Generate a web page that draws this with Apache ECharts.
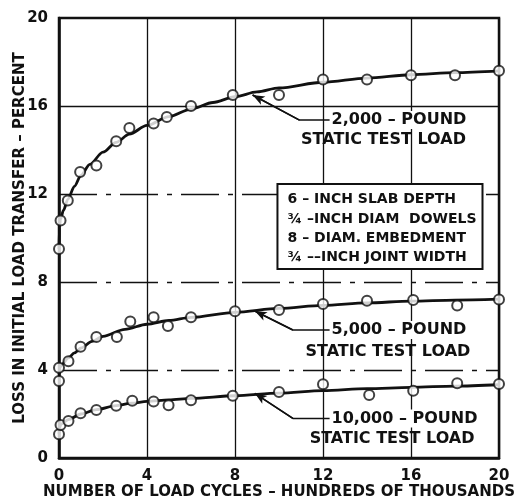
<!DOCTYPE html>
<html><head><meta charset="utf-8">
<script src="https://cdn.jsdelivr.net/npm/echarts@6/dist/echarts.min.js"></script>
<style>html,body{margin:0;padding:0;background:#fff}#c{width:517px;height:500px}</style>
</head><body><div id="c"></div>
<script>
// ---- data ----
const obs2000 = [[0,9.5],[0.07,10.8],[0.4,11.7],[0.96,13.0],[1.7,13.3],[2.6,14.4],[3.2,15.0],[4.3,15.2],[4.9,15.5],[6.0,16.0],[7.9,16.5],[10.0,16.5],[12.0,17.2],[14.0,17.2],[16.0,17.4],[18.0,17.4],[20.0,17.6]];
const obs5000 = [[0,4.1],[0,3.5],[0.43,4.4],[0.98,5.06],[1.7,5.5],[2.63,5.5],[3.24,6.2],[4.3,6.4],[4.95,6.0],[6.0,6.4],[8.0,6.67],[10.0,6.73],[12.0,7.0],[14.0,7.15],[16.1,7.18],[18.1,6.93],[20.0,7.2]];
const obs10000 = [[0,1.08],[0.07,1.5],[0.43,1.68],[0.98,2.03],[1.7,2.18],[2.6,2.38],[3.33,2.6],[4.3,2.57],[4.98,2.4],[6.0,2.62],[7.9,2.83],[10.0,3.0],[12.0,3.35],[14.1,2.86],[16.1,3.06],[18.1,3.4],[20.0,3.36]];
const curve2000 = [[0,9.5],[0.02,10.5],[0.07,10.85],[0.2,11.25],[0.4,11.75],[0.7,12.35],[1,12.85],[1.4,13.35],[2,13.9],[2.6,14.35],[3.2,14.72],[4,15.12],[5,15.52],[6,15.86],[7,16.16],[8,16.42],[9,16.64],[10,16.82],[12,17.08],[14,17.27],[16,17.42],[18,17.52],[20,17.6]];
const curve5000 = [[0,3.8],[0.03,4.1],[0.15,4.28],[0.43,4.55],[0.7,4.78],[1,5.0],[1.5,5.3],[2,5.53],[3,5.85],[4,6.08],[5,6.25],[6,6.39],[8,6.62],[10,6.8],[12,6.94],[14,7.05],[16,7.13],[18,7.18],[20,7.22]];
const curve10000 = [[0,1.1],[0.03,1.4],[0.1,1.55],[0.43,1.75],[1,2.0],[1.7,2.2],[2.6,2.38],[3.3,2.49],[4,2.57],[5,2.64],[6,2.71],[8,2.83],[10,2.95],[12,3.06],[14,3.15],[16,3.21],[18,3.27],[20,3.33]];
const lead2000 = [[8.8,16.5],[10.93,15.36],[12.3,15.36]];
const lead5000 = [[8.9,6.68],[10.63,5.82],[12.3,5.82]];
const lead10000 = [[8.9,2.94],[10.63,1.8],[12.3,1.8]];
const loadLabels = ['2,000 – POUND','5,000 – POUND','10,000 – POUND'];
const subLabel = 'STATIC TEST LOAD';
const subAnchors = [[14.75,14.45],[14.95,4.83],[15.14,0.85]];
const hGridSolid = [16];
const hGridDashed = [4,8,12];
const noteLines = ['6 – INCH SLAB DEPTH','¾ –INCH DIAM  DOWELS','8 – DIAM. EMBEDMENT','¾ ––INCH JOINT WIDTH'];
const noteBox = [[9.93,12.45],[19.25,8.59]];
const noteLineY = [11.77,10.86,10.0,9.14];
const noteLeftX = 10.39;
const xName = 'NUMBER OF LOAD CYCLES – HUNDREDS OF THOUSANDS';
const yName = 'LOSS IN INITIAL LOAD TRANSFER – PERCENT';

// ---- chart ----
const ink = '#111';
const F = '"DejaVu Sans", sans-serif';
const chart = echarts.init(document.getElementById('c'), null, {renderer:'canvas'});
const txt = (size) => ({color:ink, fontFamily:F, fontWeight:'bold', fontSize:size});

function curveSeries(d){
  return {type:'line', data:d, symbol:'none', smooth:0.3, smoothMonotone:'x', z:5,
    lineStyle:{color:ink, width:2.8}, silent:true};
}
function obsSeries(d){
  return {type:'scatter', data:d, symbol:'circle', symbolSize:10, z:8, silent:true,
    itemStyle:{color:'#fff', borderColor:ink, borderWidth:2}};
}
function leadSeries(d){
  return {type:'line', data:d, symbol:'none', z:4, silent:true,
    lineStyle:{color:ink, width:1.5},
    markLine:{silent:true, symbol:['none','arrow'], symbolSize:[7,12], label:{show:false},
      lineStyle:{color:ink, width:1.5, type:'solid'},
      data:[[{coord:d[1]},{coord:d[0]}]]}};
}

const gridLines = {
  type:'line', data:[], silent:true, z:1,
  markLine:{silent:true, symbol:['none','none'], label:{show:false}, animation:false,
    data: hGridSolid.map(v=>({yAxis:v, lineStyle:{color:ink, width:1.3, type:'solid'}}))
      .concat(hGridDashed.map(v=>({yAxis:v, lineStyle:{color:ink, width:1.3, type:[38,9,5,9]}})))}
};

const option = {
  animation:false,
  backgroundColor:'#fff',
  grid:{left:59, right:18, top:18, bottom:42, show:true, borderColor:ink, borderWidth:2.5, outerBoundsMode:'none'},
  xAxis:{type:'value', min:0, max:20, interval:4,
    axisLine:{show:true, lineStyle:{color:ink, width:2.5}}, axisTick:{show:false},
    axisLabel:Object.assign(txt(15),{margin:11}),
    splitLine:{show:true, lineStyle:{color:ink, width:1.3}},
    name:xName, nameLocation:'middle', nameGap:27, nameMoveOverlap:false, nameTextStyle:txt(15)},
  yAxis:{type:'value', min:0, max:20, interval:4,
    axisLine:{show:true, lineStyle:{color:ink, width:2.5}}, axisTick:{show:false},
    axisLabel:Object.assign(txt(15),{margin:11}),
    splitLine:{show:false},
    name:yName, nameLocation:'middle', nameGap:31, nameMoveOverlap:false, nameTextStyle:txt(15)},
  series:[gridLines,
    curveSeries(curve2000), curveSeries(curve5000), curveSeries(curve10000),
    leadSeries(lead2000), leadSeries(lead5000), leadSeries(lead10000),
    obsSeries(obs2000), obsSeries(obs5000), obsSeries(obs10000)]
};
chart.setOption(option);

const P = p => chart.convertToPixel({gridIndex:0}, p);
const font16 = 'bold 16px ' + F;
const font14 = 'bold 14px ' + F;
const els = [];
[lead2000, lead5000, lead10000].forEach((ld,i)=>{
  const a = P(ld[2]);
  els.push({type:'text', x:a[0]+1, y:a[1], z:50,
    style:{text:loadLabels[i], font:font16, fill:ink, align:'left', verticalAlign:'middle', textAlign:'left', textVerticalAlign:'middle', backgroundColor:'#fff', padding:[1,2,1,1]}});
  const b = P(subAnchors[i]);
  els.push({type:'text', x:b[0], y:b[1], z:50,
    style:{text:subLabel, font:font16, fill:ink, align:'center', verticalAlign:'middle', textAlign:'center', textVerticalAlign:'middle'}});
});
const b0 = P(noteBox[0]), b1 = P(noteBox[1]);
els.push({type:'rect', z:40, shape:{x:b0[0], y:b0[1], width:b1[0]-b0[0], height:b1[1]-b0[1]},
  style:{fill:'#fff', stroke:ink, lineWidth:2}});
noteLines.forEach((t,i)=>{
  const p = P([noteLeftX, noteLineY[i]]);
  els.push({type:'text', x:p[0], y:p[1], z:50,
    style:{text:t, font:font14, fill:ink, align:'left', verticalAlign:'middle', textAlign:'left', textVerticalAlign:'middle'}});
});
chart.setOption({graphic:{elements:els}});
</script></body></html>
